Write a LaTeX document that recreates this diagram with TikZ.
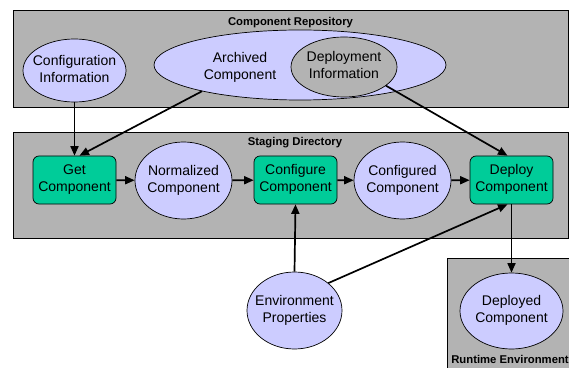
\documentclass[tikz,border=0pt]{standalone}
\usepackage{fontspec}
\setmainfont{Liberation Sans}
\usetikzlibrary{shapes.geometric,arrows.meta}
\definecolor{boxgray}{HTML}{B3B3B3}
\definecolor{lav}{HTML}{CCCCFF}
\definecolor{teal}{HTML}{00CC99}
\newcommand{\twol}[2]{\makebox[0pt]{\begin{tabular}{@{}c@{}}#1\\#2\end{tabular}}}
\begin{document}
\begin{tikzpicture}[x=1pt,y=1pt,
  every node/.style={font=\fontsize{14}{17}\selectfont, inner sep=0pt},
  region/.style={draw=black, line width=0.8pt, fill=boxgray},
  title/.style={font=\fontsize{11.3}{13}\selectfont\bfseries},
  datum/.style={ellipse, draw=black, line width=0.7pt, fill=lav},
  proc/.style={rectangle, rounded corners=6pt, draw=black, line width=0.7pt, fill=teal, minimum width=83pt, minimum height=48pt},
  arr/.style={line width=1.7pt, -{Triangle[length=9.5pt,width=8pt]}}]
\useasboundingbox (0,0) rectangle (569,367);
% regions
\draw[region] (13,260) rectangle (568,357);
\draw[region] (13,129) rectangle (568,235);
\draw[region] (447,-5) rectangle (575,109);
\node[title] (trepo) at (290.5,344) {Component Repository};
\node[title] (tstage) at (295,224) {Staging Directory};
\node[title] (trun) at (510,8) {Runtime Environment};
% repository items
\node[datum, minimum width=103pt, minimum height=63pt] (conf) at (74.5,296.5) {\twol{Configuration}{Information}};
\node[datum, minimum width=292pt, minimum height=70pt] (arch) at (300,302) {};
\node (archt) at (240,299) {\twol{Archived}{Component}};
\node[datum, fill=boxgray, minimum width=106pt, minimum height=60pt] (dinfo) at (344,300) {\twol{Deployment}{Information}};
% staging items
\node[proc] (get) at (74.5,187) {\twol{Get}{Component}};
\node[datum, minimum width=97pt, minimum height=77pt] (norm) at (183.5,186.5) {\twol{Normalized}{Component}};
\node[proc] (cfg) at (295.5,187) {\twol{Configure}{Component}};
\node[datum, minimum width=97pt, minimum height=77pt] (cfgd) at (402.5,186.5) {\twol{Configured}{Component}};
\node[proc] (dep) at (511.5,187) {\twol{Deploy}{Component}};
% others
\node[datum, minimum width=95pt, minimum height=77pt] (env) at (294.5,56.5) {\twol{Environment}{Properties}};
\node[datum, minimum width=103pt, minimum height=76pt] (depd) at (511.5,56) {\twol{Deployed}{Component}};
% connectors
\draw[arr] (conf.south) -- (get.north);
\draw[arr] (arch.195) -- ([xshift=5pt]get.north);
\draw[arr] (dinfo.336) -- ([xshift=-4pt]dep.north);
\draw[arr] (get) -- (norm);
\draw[arr] (norm) -- (cfg);
\draw[arr] (cfg) -- (cfgd);
\draw[arr] (cfgd) -- (dep);
\draw[arr] (env.north) -- (cfg.south);
\draw[arr] (env.39) -- ([xshift=-4pt]dep.south);
\draw[arr] (dep.south) -- (depd.north);
\end{tikzpicture}
\end{document}
